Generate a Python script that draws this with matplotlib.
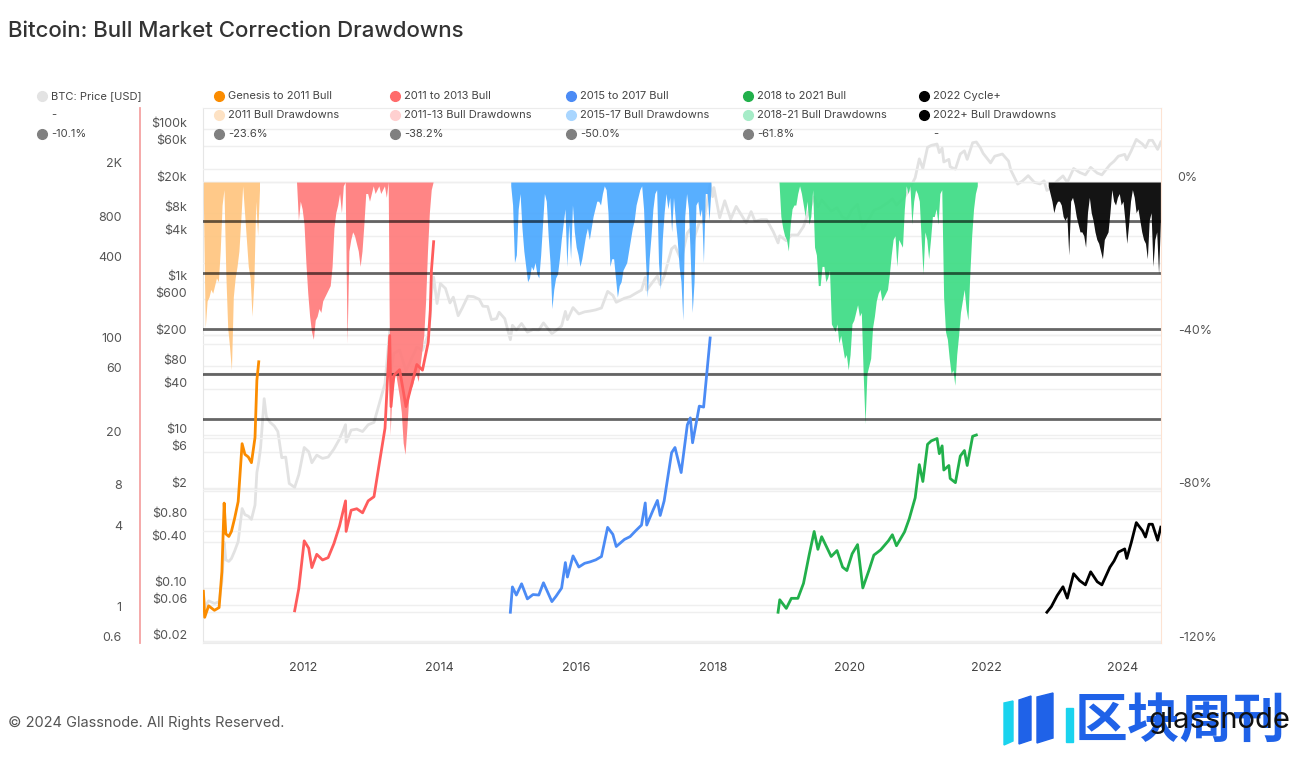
import numpy as np
import pandas as pd
import matplotlib
matplotlib.use('Agg')
import matplotlib.pyplot as plt
import matplotlib.ticker as mticker
from matplotlib.transforms import ScaledTranslation
from matplotlib.lines import Line2D
from matplotlib.patches import Polygon

plt.rcParams['font.family'] = ['Inter', 'DejaVu Sans']

# BTC price (grey line, $ axis)
PRICE_DATES = [
    '2010-07-18', '2010-07-25', '2010-08-15', '2010-09-15', '2010-10-10', '2010-10-25', '2010-11-06', '2010-11-15',
    '2010-12-01', '2010-12-15', '2011-01-01', '2011-01-20', '2011-02-10', '2011-02-25', '2011-03-15', '2011-04-01',
    '2011-04-20', '2011-04-30', '2011-05-10', '2011-05-20', '2011-06-08', '2011-06-20', '2011-07-10', '2011-08-01',
    '2011-08-20', '2011-09-10', '2011-10-01', '2011-10-20', '2011-11-18', '2011-12-10', '2012-01-08', '2012-02-01',
    '2012-02-18', '2012-03-15', '2012-04-15', '2012-05-15', '2012-06-15', '2012-07-15', '2012-08-16', '2012-08-19',
    '2012-09-15', '2012-10-15', '2012-11-15', '2012-12-15', '2013-01-15', '2013-02-15', '2013-03-15', '2013-04-09',
    '2013-04-16', '2013-05-01', '2013-06-01', '2013-07-05', '2013-08-01', '2013-09-01', '2013-10-01', '2013-11-01',
    '2013-11-12', '2013-11-18', '2013-11-30', '2013-12-18', '2014-01-05', '2014-02-01', '2014-02-25', '2014-03-15',
    '2014-04-10', '2014-05-01', '2014-06-01', '2014-07-01', '2014-08-01', '2014-08-20', '2014-09-15', '2014-10-05',
    '2014-11-01', '2014-11-15', '2014-12-15', '2015-01-14', '2015-01-25', '2015-02-15', '2015-03-15', '2015-04-15',
    '2015-05-15', '2015-06-15', '2015-07-10', '2015-08-24', '2015-09-15', '2015-10-15', '2015-11-04', '2015-11-15',
    '2015-12-15', '2016-01-15', '2016-02-15', '2016-03-15', '2016-04-15', '2016-05-15', '2016-06-17', '2016-07-15',
    '2016-08-02', '2016-09-15', '2016-10-15', '2016-11-15', '2016-12-15', '2017-01-04', '2017-01-12', '2017-02-15',
    '2017-03-10', '2017-03-25', '2017-04-15', '2017-05-25', '2017-06-12', '2017-07-15', '2017-08-17', '2017-09-02',
    '2017-09-14', '2017-10-20', '2017-11-12', '2017-12-17', '2017-12-30', '2018-01-06', '2018-02-06', '2018-03-05',
    '2018-04-06', '2018-05-05', '2018-06-28', '2018-07-24', '2018-08-14', '2018-09-15', '2018-10-15', '2018-11-20',
    '2018-12-15', '2018-12-24', '2019-01-28', '2019-02-24', '2019-03-31', '2019-04-30', '2019-05-30', '2019-06-26',
    '2019-07-16', '2019-08-05', '2019-09-25', '2019-10-26', '2019-11-25', '2019-12-18', '2020-01-15', '2020-02-13',
    '2020-03-12', '2020-04-15', '2020-05-10', '2020-06-15', '2020-07-27', '2020-08-17', '2020-09-08', '2020-10-21',
    '2020-11-15', '2020-12-17', '2021-01-08', '2021-01-27', '2021-02-21', '2021-03-13', '2021-04-13', '2021-04-25',
    '2021-05-10', '2021-05-19', '2021-06-15', '2021-06-22', '2021-07-20', '2021-08-15', '2021-09-06', '2021-09-21',
    '2021-10-20', '2021-11-09', '2021-11-30', '2021-12-15', '2022-01-24', '2022-02-15', '2022-03-28', '2022-04-30',
    '2022-05-12', '2022-06-18', '2022-07-15', '2022-08-13', '2022-09-15', '2022-10-15', '2022-11-06', '2022-11-21',
    '2022-12-15', '2023-01-15', '2023-02-15', '2023-03-10', '2023-04-13', '2023-05-15', '2023-06-15', '2023-07-13',
    '2023-08-17', '2023-09-11', '2023-10-24', '2023-11-15', '2023-12-08', '2024-01-11', '2024-01-22', '2024-02-15',
    '2024-03-13', '2024-04-15', '2024-05-01', '2024-05-20', '2024-06-07', '2024-07-05', '2024-07-22',
]
PRICE_USD = [
    0.086, 0.055, 0.067, 0.062, 0.065, 0.12, 0.39, 0.23,
    0.22, 0.24, 0.30, 0.40, 1.08, 0.90, 0.86, 0.78,
    1.2, 3.2, 4.4, 6.8, 29.6, 17, 14.5, 13,
    11, 5.0, 5.1, 2.3, 2.05, 3.0, 6.8, 6.0,
    4.3, 5.4, 4.9, 5.1, 6.5, 8.8, 13.5, 8.0,
    11.5, 11.8, 11.0, 13.5, 14.5, 27, 47, 230,
    68, 116, 128, 68, 95, 140, 127, 205,
    355, 700, 1150, 520, 950, 820, 530, 630,
    360, 450, 650, 640, 590, 480, 475, 320,
    330, 400, 330, 175, 270, 235, 285, 220,
    237, 235, 290, 210, 230, 265, 410, 320,
    460, 380, 405, 415, 430, 455, 750, 665,
    540, 610, 640, 710, 780, 1140, 780, 1010,
    1190, 920, 1180, 2700, 2950, 1920, 4350, 4900,
    3200, 6000, 5900, 19300, 13000, 17100, 6900, 11500,
    6600, 9700, 5900, 8300, 6200, 6500, 6500, 4500,
    3230, 4000, 3450, 4100, 4100, 5300, 8600, 12900,
    9500, 11800, 8400, 9300, 7000, 6600, 8800, 10300,
    4900, 6700, 8600, 9400, 11000, 12200, 10100, 12800,
    16000, 23000, 40600, 30400, 57500, 61000, 63500, 49000,
    56000, 37000, 40000, 32000, 29800, 47000, 51700, 40000,
    66000, 67500, 57000, 48000, 36000, 44000, 47000, 38000,
    29000, 19000, 21000, 24500, 20000, 19100, 21000, 15700,
    17300, 20900, 24300, 20000, 30400, 27000, 25100, 31400,
    26500, 25100, 34000, 37800, 44000, 46500, 39500, 51800,
    73000, 63500, 57000, 71000, 71000, 54000, 67500,
]

# bull cycles: price relative to cycle base (left axis)
CYCLE_START = ['2010-07-18', '2011-11-18', '2015-01-14', '2018-12-15', '2022-11-21']
CYCLE_END = ['2011-05-10', '2013-11-30', '2017-12-17', '2021-11-09', '2024-07-22']
CYCLE_BASE = [0.06, 2.0, 175, 3230, 15700]

# bull drawdowns in %, one value every 10 days from DD_START
DD_START = ['2010-07-18', '2011-11-28', '2015-01-16', '2018-12-20', '2022-11-28']
DD_ORANGE = [-5, -38, -31, -30, -28, -29, -27, -25, -26, -18, -6, -2, -24, -38, -43, -49, -30, -25, -22, -18,
             -10, -1, -8, -15, -22, -25, -35, -26, -5, -14, -2]
DD_RED = [0, -10, -5, -7, -11, -21, -29, -35, -39, -41, -36, -35, -33, -34, -31, -30, -29, -28, -27, -22,
          -12, -8, -6, -3, -8, -1, 0, -42, -18, -15, -13, -14, -16, -18, -22, -18, -11, -3, -3, -5,
          -3, -1, -3, -2, -1, -3, -2, -1, -4, 0, -66, -55, -52, -50, -53, -56, -60, -68, -71, -64,
          -56, -54, -53, -51, -50, -52, -48, -44, -40, -31, -18, -8, -2, 0]
DD_BLUE = [-1, -6, -21, -19, -7, -3, -12, -18, -22, -26, -25, -22, -23, -21, -24, -25, -19, -11, -3, -5,
           -14, -21, -33, -28, -25, -24, -20, -15, -11, -7, -22, -11, -20, -6, -13, -17, -19, -22, -20, -17,
           -14, -12, -15, -12, -9, -7, -5, -5, -6, -3, -1, -2, -8, -22, -20, -20, -25, -30, -27, -26,
           -23, -22, -21, -18, -15, -12, -10, -6, -4, -2, -1, -7, -20, -30, -20, -14, -7, -3, -2, -21,
           -28, -15, -8, -3, -7, -4, -13, -4, -10, -15, -22, -26, -36, -9, -3, -7, -20, -34, -26, -6,
           -5, -9, -7, -21, -3, -3, -10, -2]
DD_GREEN = [0, -9, -12, -14, -15, -18, -11, -7, -6, -6, -3, -1, -3, -6, -9, -5, -11, -9, -2, -17,
            -19, -27, -27, -22, -22, -26, -25, -23, -37, -38, -39, -37, -42, -40, -43, -46, -45, -49, -45, -37,
            -36, -34, -32, -35, -34, -50, -63, -50, -48, -46, -38, -35, -31, -29, -28, -31, -30, -29, -28, -24,
            -19, -15, -14, -22, -15, -16, -17, -7, -1, -3, -1, -11, -5, -2, -3, -5, -15, -24, -13, -15,
            -20, -15, -9, -9, -7, -11, -3, -2, -30, -39, -41, -46, -50, -49, -53, -45, -40, -34, -31, -28,
            -33, -36, -24, -14, -7, -3, -1]
DD_BLACK = [-1, -3, -5, -8, -6, -5, -5, -6, -9, -10, -9, -19, -5, -4, -6, -9, -11, -13, -13, -14,
            -17, -8, -4, -8, -10, -13, -15, -16, -18, -20, -15, -14, -13, -8, -2, -5, -6, -4, -3, -6,
            -5, -10, -16, -11, -5, -2, -4, -8, -7, -10, -13, -15, -16, -20, -10, -8, -22, -15, -13, -24, -10]
DD_SERIES = [DD_ORANGE, DD_RED, DD_BLUE, DD_GREEN, DD_BLACK]
FIB_LEVELS = [-10.1, -23.6, -38.2, -50.0, -61.8]

PRICE_TICKS = [100000, 60000, 20000, 8000, 4000, 1000, 600, 200, 80, 40, 10, 6, 2, 0.8, 0.4, 0.1, 0.06, 0.02]
PRICE_TICK_LABELS = ['$100k', '$60k', '$20k', '$8k', '$4k', '$1k', '$600', '$200', '$80', '$40', '$10', '$6',
                     '$2', '$0.80', '$0.40', '$0.10', '$0.06', '$0.02']
CYCLE_TICKS = [2000, 800, 400, 100, 60, 20, 8, 4, 1, 0.6]
CYCLE_TICK_LABELS = ['2K', '800', '400', '100', '60', '20', '8', '4', '1', '0.6']
DD_TICKS = [0, -40, -80, -120]
DD_TICK_LABELS = ['0%', '-40%', '-80%', '-120%']
YEAR_TICKS = ['2012', '2014', '2016', '2018', '2020', '2022', '2024']

LINE_COLORS = ['#fb8c00', '#ff5c5c', '#4b8bf5', '#22b04b', '#000000']
FILL_COLORS = ['#ffc57f', '#ff7b7b', '#4aa8ff', '#3ddc84', '#000000']

LEGEND_ROWS = [
    ['BTC: Price [USD]', 'Genesis to 2011 Bull', '2011 to 2013 Bull', '2015 to 2017 Bull', '2018 to 2021 Bull', '2022 Cycle+'],
    ['-', '2011 Bull Drawdowns', '2011-13 Bull Drawdowns', '2015-17 Bull Drawdowns', '2018-21 Bull Drawdowns', '2022+ Bull Drawdowns'],
    ['-10.1%', '-23.6%', '-38.2%', '-50.0%', '-61.8%', '-'],
]
LEGEND_COLORS = [
    ['#e3e3e3', '#fb8c00', '#ff6b6b', '#4b8bf5', '#22b04b', '#000000'],
    [None, '#fde2c4', '#ffd0d0', '#a9d6ff', '#a6ecc8', '#000000'],
    ['#808080', '#808080', '#808080', '#808080', '#808080', None],
]

W, H = 1309, 763


def fx(x):
    return x / W


def fy(y):
    return 1 - y / H


fig = plt.figure(figsize=(W / 100, H / 100), dpi=100)
rect = [fx(203), fy(643), (1161 - 203) / W, (643 - 108) / H]
ax_p = fig.add_axes(rect)
ax_c = ax_p.twinx()
ax_c.set_yscale('log')
ax_c.set_ylim(0.59, 5692)
ax_dd = ax_p.twinx()
ax_l = fig.add_axes(rect, sharex=ax_p, sharey=ax_c)
ax_l.axis('off')

pdates = pd.to_datetime(PRICE_DATES).to_numpy()
price = np.array(PRICE_USD)

# grey price
ax_p.plot(pdates, price, color='#e2e2e2', lw=2, zorder=2)
ax_p.set_yscale('log')
ax_p.set_ylim(0.01883, 188000)

# drawdown fills + fib levels
for start, vals, col in zip(DD_START, DD_SERIES, FILL_COLORS):
    d = pd.date_range(start, periods=len(vals), freq='10D').to_numpy()
    ax_dd.fill_between(d, vals, 0, color=col, alpha=0.92, lw=0)
for lv in FIB_LEVELS:
    ax_dd.axhline(lv, color='black', alpha=0.6, lw=2)
ax_dd.set_ylim(-120.2, 19.3)
ax_dd.set_axisbelow(True)

# cycle lines
for s, e, b, col in zip(CYCLE_START, CYCLE_END, CYCLE_BASE, LINE_COLORS):
    m = (pdates >= np.datetime64(s)) & (pdates <= np.datetime64(e))
    ax_l.plot(pdates[m], price[m] / b, color=col, lw=2, solid_joinstyle='round')

ax_p.set_xlim(np.datetime64('2010-07-16'), np.datetime64('2024-07-23'))

# spines
for a in (ax_p, ax_c, ax_dd):
    for sp in a.spines.values():
        sp.set_visible(False)
ax_p.spines['left'].set_visible(True)
ax_p.spines['left'].set_color('#e6e6e6')
ax_p.spines['top'].set_visible(True)
ax_p.spines['top'].set_color('#ececec')
ax_p.spines['bottom'].set_visible(True)
ax_p.spines['bottom'].set_color('#ececec')
ax_dd.spines['right'].set_visible(True)
ax_dd.spines['right'].set_color('#fde3d3')
ax_c.yaxis.tick_left()
ax_c.yaxis.set_label_position('left')
ax_c.spines['left'].set_visible(True)
ax_c.spines['left'].set_position(('outward', 45.4))
ax_c.spines['left'].set_color('#f5a3a3')
ax_c.spines['left'].set_linewidth(1.3)

# ticks
ax_p.tick_params(axis='y', length=0, pad=11.5, labelsize=9, labelcolor='#555555')
ax_c.tick_params(axis='y', length=0, pad=13, labelsize=9, labelcolor='#555555')
ax_dd.tick_params(axis='y', length=0, pad=12, labelsize=9, labelcolor='#555555')
ax_p.tick_params(axis='x', length=0, pad=14, labelsize=9, labelcolor='#444444')

for a in (ax_p, ax_c):
    a.yaxis.set_minor_locator(mticker.NullLocator())
    a.yaxis.set_minor_formatter(mticker.NullFormatter())
ax_p.set_yticks(PRICE_TICKS)
ax_p.set_yticklabels(PRICE_TICK_LABELS)
ax_c.set_yticks(CYCLE_TICKS)
ax_c.set_yticklabels(CYCLE_TICK_LABELS)
ax_dd.set_yticks(DD_TICKS)
ax_dd.set_yticklabels(DD_TICK_LABELS)
ax_p.set_xticks(pd.to_datetime([y + '-01-01' for y in YEAR_TICKS]).to_numpy())
ax_p.set_xticklabels(YEAR_TICKS)

ax_p.grid(axis='y', color='#efefef', lw=1)
ax_c.grid(axis='y', color='#efefef', lw=1)
ax_dd.grid(axis='y', color='#efefef', lw=1)
ax_p.set_axisbelow(True)
ax_c.set_axisbelow(True)

up = ScaledTranslation(0, 0.06, fig.dpi_scale_trans)
for a in (ax_p, ax_c, ax_dd):
    for lab in a.get_yticklabels():
        lab.set_transform(lab.get_transform() + up)

# legend
row_y = [96, 115, 134]
col_x = [42, 219, 395, 571, 748, 924]
for labels, colors, y in zip(LEGEND_ROWS, LEGEND_COLORS, row_y):
    for lab, col, x in zip(labels, colors, col_x):
        if col is not None:
            fig.add_artist(Line2D([fx(x)], [fy(y)], marker='o', ms=7, ls='', color=col,
                                  transform=fig.transFigure))
        fig.text(fx(x + 9), fy(y), lab, fontsize=8, color='#444444', va='center', ha='left')

fig.text(fx(8), fy(31), 'Bitcoin: Bull Market Correction Drawdowns', fontsize=16, color='#333333',
         va='center', ha='left', fontweight='medium')
fig.text(fx(8), fy(723), '\u00a9 2024 Glassnode. All Rights Reserved.', fontsize=10.5, color='#555555',
         va='center', ha='left')

# watermark and logo
for pts, col in [([(1004, 703), (1013, 701), (1013, 741), (1004, 745)], '#1ad3ee'),
                 ([(1019, 700), (1031, 696), (1031, 740), (1019, 744)], '#1f62e8'),
                 ([(1037, 697), (1053, 693), (1053, 738), (1037, 743)], '#1f62e8'),
                 ([(1066, 708), (1073, 708), (1073, 742), (1066, 742)], '#1ad3ee')]:
    fig.add_artist(Polygon([(fx(a), fy(b)) for a, b in pts], closed=True, color=col,
                           transform=fig.transFigure))
fig.text(fx(1286), fy(721), '区块周刊', fontsize=38, color='#1f62e8', fontweight='bold',
         va='center', ha='right', family=['Noto Sans CJK SC', 'DejaVu Sans'])
fig.text(fx(1290), fy(720), 'glassnode', fontsize=21, color='#111111', va='center', ha='right')

fig.savefig('out.png', dpi=100)
